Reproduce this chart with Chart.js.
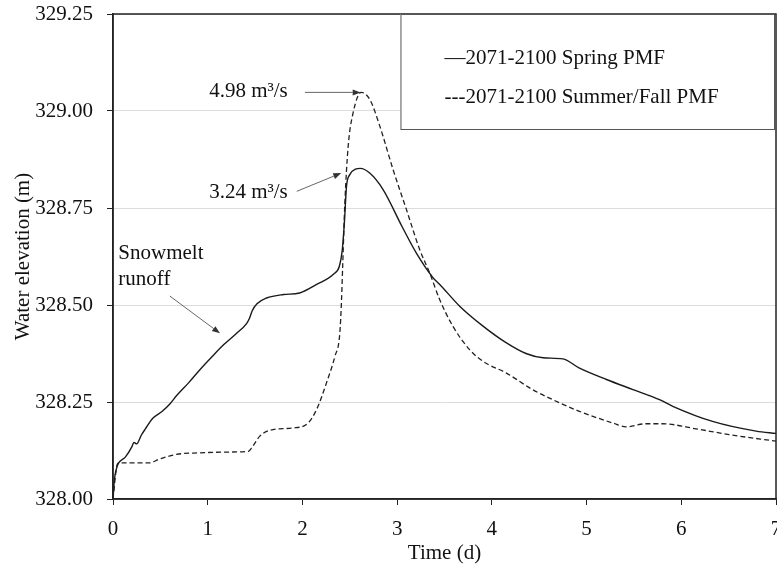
<!DOCTYPE html>
<html>
<head>
<meta charset="utf-8">
<script src="https://cdn.jsdelivr.net/npm/chart.js@4.4.1/dist/chart.umd.min.js"></script>
<style>
  html, body { margin: 0; padding: 0; background: #fff; }
  #wrap { width: 777px; height: 566px; }
</style>
</head>
<body>
<div id="wrap"><canvas id="elevChart" width="777" height="566"></canvas></div>
<script>
// Time (days) and water elevation (m)
const springTime = [0, 0.015, 0.035, 0.06, 0.13, 0.2, 0.22, 0.25, 0.3, 0.34, 0.42, 0.52, 0.6, 0.67, 0.8, 0.92, 1.05, 1.17, 1.3, 1.41, 1.44, 1.47, 1.52, 1.62, 1.8, 1.97, 2.15, 2.33, 2.39, 2.42, 2.445, 2.465, 2.5, 2.56, 2.61, 2.71, 2.85, 3.05, 3.2, 3.38, 3.45, 3.66, 3.91, 4.15, 4.36, 4.54, 4.75, 4.92, 5.21, 5.49, 5.77, 5.91, 6.33, 6.79, 7.0];
const springElev = [328.00, 328.05, 328.077, 328.093, 328.108, 328.135, 328.146, 328.142, 328.165, 328.18, 328.208, 328.226, 328.245, 328.266, 328.30, 328.334, 328.368, 328.398, 328.426, 328.452, 328.465, 328.485, 328.503, 328.518, 328.527, 328.531, 328.553, 328.58, 328.60, 328.64, 328.72, 328.805, 328.836, 328.85, 328.852, 328.84, 328.798, 328.703, 328.635, 328.57, 328.553, 328.497, 328.445, 328.403, 328.375, 328.364, 328.361, 328.338, 328.308, 328.282, 328.256, 328.239, 328.20, 328.175, 328.169];

const fallTime = [0, 0.04, 0.06, 0.39, 0.48, 0.67, 0.92, 1.2, 1.43, 1.465, 1.55, 1.69, 1.9, 2.06, 2.15, 2.255, 2.343, 2.395, 2.413, 2.425, 2.448, 2.483, 2.535, 2.62, 2.711, 2.817, 2.957, 3.098, 3.238, 3.343, 3.449, 3.589, 3.765, 3.905, 4.15, 4.43, 4.643, 4.924, 5.275, 5.416, 5.627, 5.8, 6.154, 6.505, 7.0];
const fallElev = [328.00, 328.085, 328.093, 328.093, 328.102, 328.115, 328.119, 328.121, 328.123, 328.132, 328.162, 328.179, 328.183, 328.196, 328.231, 328.30, 328.368, 328.428, 328.514, 328.60, 328.763, 328.909, 328.995, 329.048, 329.03, 328.961, 328.849, 328.746, 328.643, 328.583, 328.514, 328.445, 328.385, 328.355, 328.325, 328.282, 328.256, 328.226, 328.196, 328.186, 328.194, 328.194, 328.181, 328.166, 328.149];

const legendLabels = ['\u20142071-2100 Spring PMF', '---2071-2100 Summer/Fall PMF'];

// annotation text, anchored in data units (days, m)
const noteTexts = ['4.98 m\u00b3/s', '3.24 m\u00b3/s'];
const noteAnchors = [[1.015, 329.05], [1.015, 328.79]];
const noteArrows = [[2.026, 329.048, 2.615, 329.048], [1.94, 328.793, 2.41, 328.84]];
const snowLines = ['Snowmelt', 'runoff'];
const snowAnchors = [[0.056, 328.632], [0.056, 328.567]];
const snowArrow = [0.6, 328.523, 1.13, 328.427];

const serif = '"Liberation Serif", "Times New Roman", serif';
const ink = '#111';

function toPoints(xs, ys) {
    return xs.map((x, i) => ({ x: x, y: ys[i] }));
}

function drawArrow(c, x1, y1, x2, y2) {
    const ang = Math.atan2(y2 - y1, x2 - x1);
    const head = 8, half = 3;
    c.strokeStyle = '#666';
    c.fillStyle = '#333';
    c.lineWidth = 1;
    c.beginPath();
    c.moveTo(x1, y1);
    c.lineTo(x2 - head * Math.cos(ang), y2 - head * Math.sin(ang));
    c.stroke();
    c.beginPath();
    c.moveTo(x2, y2);
    c.lineTo(x2 - head * Math.cos(ang) + half * Math.sin(ang), y2 - head * Math.sin(ang) - half * Math.cos(ang));
    c.lineTo(x2 - head * Math.cos(ang) - half * Math.sin(ang), y2 - head * Math.sin(ang) + half * Math.cos(ang));
    c.closePath();
    c.fill();
}

// frame, legend box and the notes on the plot
const overlayPlugin = {
    id: 'overlay',
    afterDatasetsDraw(chart) {
        const c = chart.ctx;
        const a = chart.chartArea;
        const xs = chart.scales.x, ys = chart.scales.y;
        c.save();

        // plot frame
        c.strokeStyle = '#222';
        c.lineWidth = 1.5;
        c.strokeRect(a.left, a.top, a.right - a.left, a.bottom - a.top);

        // legend box
        const bx = xs.getPixelForValue(3.035);
        const by = a.top;
        const bw = a.right - 2 - bx;
        const bh = 115;
        c.fillStyle = '#fff';
        c.fillRect(bx, by, bw, bh);
        c.strokeStyle = '#555';
        c.lineWidth = 1;
        c.strokeRect(bx + 0.5, by + 0.5, bw, bh);
        c.font = '21px ' + serif;
        c.fillStyle = ink;
        c.textAlign = 'left';
        c.textBaseline = 'middle';
        c.fillText(legendLabels[0], bx + 44, by + 44);
        c.fillText(legendLabels[1], bx + 44, by + 83);

        // peak notes
        noteTexts.forEach((t, i) => {
            c.fillStyle = ink;
            c.fillText(t, xs.getPixelForValue(noteAnchors[i][0]), ys.getPixelForValue(noteAnchors[i][1]));
            const ar = noteArrows[i];
            drawArrow(c, xs.getPixelForValue(ar[0]), ys.getPixelForValue(ar[1]),
                xs.getPixelForValue(ar[2]), ys.getPixelForValue(ar[3]));
        });

        snowLines.forEach((t, i) => {
            c.fillStyle = ink;
            c.fillText(t, xs.getPixelForValue(snowAnchors[i][0]), ys.getPixelForValue(snowAnchors[i][1]));
        });
        drawArrow(c, xs.getPixelForValue(snowArrow[0]), ys.getPixelForValue(snowArrow[1]),
            xs.getPixelForValue(snowArrow[2]), ys.getPixelForValue(snowArrow[3]));

        c.restore();
    }
};

const ctx = document.getElementById('elevChart').getContext('2d');

new Chart(ctx, {
    type: 'line',
    data: {
        datasets: [{
            label: legendLabels[0],
            data: toPoints(springTime, springElev),
            borderColor: '#1a1a1a',
            borderWidth: 1.4,
            pointRadius: 0,
            cubicInterpolationMode: 'monotone',
            fill: false
        }, {
            label: legendLabels[1],
            data: toPoints(fallTime, fallElev),
            borderColor: '#222',
            borderWidth: 1.3,
            borderDash: [5, 3],
            pointRadius: 0,
            cubicInterpolationMode: 'monotone',
            fill: false
        }]
    },
    options: {
        responsive: false,
        animation: false,
        layout: { padding: { top: 14, right: 1, left: 0, bottom: 0 } },
        plugins: {
            legend: { display: false },
            tooltip: { enabled: false }
        },
        scales: {
            x: {
                type: 'linear',
                min: 0,
                max: 7,
                ticks: {
                    stepSize: 1,
                    color: ink,
                    padding: 12,
                    font: { family: serif, size: 21 }
                },
                grid: { drawOnChartArea: false, tickLength: 6, color: '#222' },
                border: { color: '#222', width: 1.5 },
                title: {
                    display: true,
                    text: 'Time (d)',
                    color: ink,
                    padding: { top: 0, bottom: 0 },
                    font: { family: serif, size: 21 }
                },
                afterFit(scale) {
                    scale.height = 67;
                    scale.paddingLeft = 0;
                    scale.paddingRight = 0;
                }
            },
            y: {
                min: 328,
                max: 329.25,
                ticks: {
                    stepSize: 0.25,
                    color: ink,
                    padding: 14,
                    font: { family: serif, size: 21 },
                    callback: v => v.toFixed(2)
                },
                grid: { color: '#dcdcdc', tickColor: '#222', tickLength: 6 },
                border: { color: '#222', width: 1.5 },
                title: {
                    display: true,
                    text: 'Water elevation (m)',
                    color: ink,
                    padding: { top: 11, bottom: 0 },
                    font: { family: serif, size: 21 }
                },
                afterFit(scale) {
                    scale.width = 113;
                    scale.paddingTop = 0;
                    scale.paddingBottom = 0;
                }
            }
        }
    },
    plugins: [overlayPlugin]
});
</script>
</body>
</html>
